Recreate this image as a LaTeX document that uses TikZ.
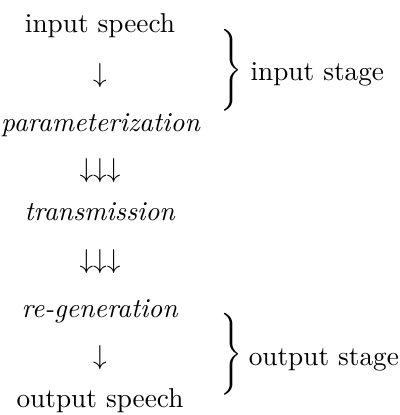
\documentclass[tikz,border=0pt]{standalone}
\begin{document}
\begin{tikzpicture}[x=1.0cm,y=1.0cm,scale=1,
	stagetext/.style={anchor=base,inner sep=0pt},
	flowarrow/.style={inner sep=0pt},
	stagebrace/.style={inner sep=0pt},
	stagelabel/.style={anchor=base west,inner sep=0pt}]
	\useasboundingbox (0,0) rectangle (5.155,-5.349);
	\node[stagetext] (inspeech) at (1.289,-0.425) {input speech};
	\node[flowarrow] (arrA) at (1.289,-0.979) {$\downarrow$};
	\node[stagetext] (param) at (1.300,-1.701) {\emph{parameterization}};
	\node[flowarrow] (arrB) at (1.289,-2.204) {$\downarrow\downarrow\downarrow$};
	\node[stagetext] (trans) at (1.289,-2.848) {\emph{transmission}};
	\node[flowarrow] (arrC) at (1.289,-3.377) {$\downarrow\downarrow\downarrow$};
	\node[stagetext] (regen) at (1.289,-4.098) {\emph{re-generation}};
	\node[flowarrow] (arrD) at (1.289,-4.614) {$\downarrow$};
	\node[stagetext] (outspeech) at (1.289,-5.258) {output speech};
	% braces and stage labels
	\node[stagebrace] (inbrace) at (2.960,-0.902) {$\left.\vcenter{\hbox{\rule{0pt}{28pt}}}\right\}$};
	\node[stagelabel] (inlabel) at (3.222,-1.031) {input stage};
	\node[stagebrace] (outbrace) at (2.960,-4.562) {$\left.\vcenter{\hbox{\rule{0pt}{28pt}}}\right\}$};
	\node[stagelabel] (outlabel) at (3.200,-4.717) {output stage};
\end{tikzpicture}
\end{document}
